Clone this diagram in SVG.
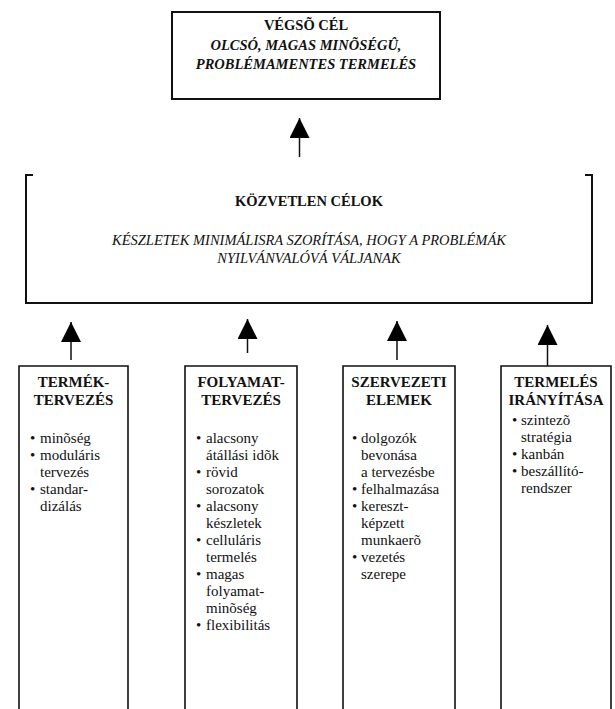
<svg xmlns="http://www.w3.org/2000/svg" width="615" height="709" viewBox="0 0 615 709">
<defs>
<marker id="ah" viewBox="0 0 20 20" refX="20" refY="10" markerWidth="20" markerHeight="20" markerUnits="userSpaceOnUse" orient="auto">
<path d="M0,0 L20,10 L0,20 z" fill="#000"/>
</marker>
<style>
text{font-family:'Liberation Serif','DejaVu Serif',serif;fill:#111;}
.h{font-size:15px;font-weight:bold;text-anchor:middle;}
.t{font-size:14.5px;font-weight:bold;text-anchor:middle;}
.hi{font-size:14.5px;font-weight:bold;font-style:italic;text-anchor:middle;}
.i{font-size:14.5px;font-style:italic;text-anchor:middle;}
.b text{font-size:15px;}
.box{fill:none;stroke:#111;stroke-width:2;}
.col{fill:none;stroke:#111;stroke-width:1.6;}
.con{stroke:#111;stroke-width:1.5;fill:none;marker-end:url(#ah);}
</style>
</defs>
<rect width="615" height="709" fill="#fff"/>
<g font-family="Liberation Serif, DejaVu Serif, serif">
<g id="vegso-cel">
<rect class="box" x="172" y="12" width="268" height="87"/>
<text class="t" x="306" y="30">VÉGSÕ CÉL</text>
<text class="hi" x="306" y="49.5">OLCSÓ, MAGAS MINÕSÉGÛ,</text>
<text class="hi" x="306" y="69">PROBLÉMAMENTES TERMELÉS</text>
</g>
<g id="kozvetlen-celok">
<path class="box" d="M33,175 H26 V303 H592 V175 H585"/>
<text class="t" x="309" y="206">KÖZVETLEN CÉLOK</text>
<text class="i" x="309" y="245">KÉSZLETEK MINIMÁLISRA SZORÍTÁSA, HOGY A PROBLÉMÁK</text>
<text class="i" x="309" y="263">NYILVÁNVALÓVÁ VÁLJANAK</text>
</g>
<g id="termektervezes">
<path class="col" d="M19,709 V366 H128 V709"/>
<text class="h" x="73.5" y="387">TERMÉK-</text>
<text class="h" x="73.5" y="405">TERVEZÉS</text>
<g class="b">
<text x="30" y="443">•</text><text x="40" y="443">minõség</text>
<text x="30" y="460">•</text><text x="40" y="460">moduláris</text>
<text x="40" y="477">tervezés</text>
<text x="30" y="494">•</text><text x="40" y="494">standar-</text>
<text x="40" y="511">dizálás</text>
</g>
</g>
<g id="folyamattervezes">
<path class="col" d="M185,709 V366 H297 V709"/>
<text class="h" x="241" y="387">FOLYAMAT-</text>
<text class="h" x="241" y="405">TERVEZÉS</text>
<g class="b">
<text x="196" y="443">•</text><text x="206" y="443">alacsony</text>
<text x="206" y="460">átállási idõk</text>
<text x="196" y="477">•</text><text x="206" y="477">rövid</text>
<text x="206" y="494">sorozatok</text>
<text x="196" y="511">•</text><text x="206" y="511">alacsony</text>
<text x="206" y="528">készletek</text>
<text x="196" y="545">•</text><text x="206" y="545">celluláris</text>
<text x="206" y="562">termelés</text>
<text x="196" y="579">•</text><text x="206" y="579">magas</text>
<text x="206" y="596">folyamat-</text>
<text x="206" y="613">minõség</text>
<text x="196" y="630">•</text><text x="206" y="630">flexibilitás</text>
</g>
</g>
<g id="szervezeti-elemek">
<path class="col" d="M343,709 V366 H455 V709"/>
<text class="h" x="399" y="387">SZERVEZETI</text>
<text class="h" x="399" y="405">ELEMEK</text>
<g class="b">
<text x="352" y="443">•</text><text x="361" y="443">dolgozók</text>
<text x="361" y="460">bevonása</text>
<text x="361" y="477">a tervezésbe</text>
<text x="352" y="494">•</text><text x="361" y="494">felhalmazása</text>
<text x="352" y="511">•</text><text x="361" y="511">kereszt-</text>
<text x="361" y="528">képzett</text>
<text x="361" y="545">munkaerõ</text>
<text x="352" y="562">•</text><text x="361" y="562">vezetés</text>
<text x="361" y="579">szerepe</text>
</g>
</g>
<g id="termeles-iranyitasa">
<path class="col" d="M501,709 V366 H611 V709"/>
<text class="h" x="556" y="387">TERMELÉS</text>
<text class="h" x="556" y="405">IRÁNYÍTÁSA</text>
<g class="b">
<text x="512" y="425">•</text><text x="521" y="425">szintezõ</text>
<text x="521" y="442">stratégia</text>
<text x="512" y="459">•</text><text x="521" y="459">kanbán</text>
<text x="512" y="476">•</text><text x="521" y="476">beszállító-</text>
<text x="521" y="493">rendszer</text>
</g>
</g>
</g>
<g id="connectors">
<line class="con" x1="299.5" y1="157" x2="299.5" y2="118"/>
<line class="con" x1="71" y1="360" x2="71" y2="322"/>
<line class="con" x1="247.5" y1="353" x2="247.5" y2="319"/>
<line class="con" x1="397" y1="360" x2="397" y2="321"/>
<line class="con" x1="547.5" y1="366" x2="547.5" y2="325"/>
</g>
</svg>
